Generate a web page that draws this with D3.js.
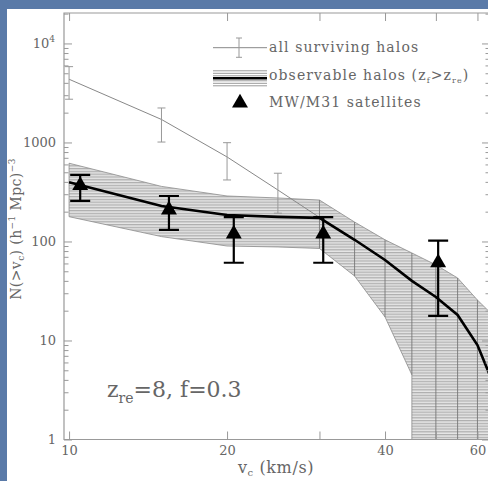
<!DOCTYPE html>
<html>
<head>
<meta charset="utf-8">
<script src="https://cdn.jsdelivr.net/npm/d3@7"></script>
<style>
  body { margin: 0; background: #5a7aa8; }
  svg { display: block; }
  text { font-family: "DejaVu Serif", serif; fill: #666; }
</style>
</head>
<body>
<script>
// grille en v_c des courbes simulees
const vGrid = [10, 15, 20, 25, 30, 35, 40, 45, 50, 55, 60, 65];
const observable = [396, 228, 185, 177, 173, 104, 65, 40, 27.5, 18.1, 9.0, 3.2];
const bandHigh = [617, 360, 288, 275, 262, 157, 104, 76.5, 58, 42.8, 25.6, 16.9];
const bandLow = [178, 112, 90, 88, 85, 44.8, 17.3, 4.5, 0, 0, 0, 0];

// tous les halos survivants
const allV = [10, 15, 20, 25, 30];
const allHalos = [4350, 1707, 714, 331, 175];
const allErrLow = [2733, 1010, 418, 193, null];
const allErrHigh = [5830, 2230, 995, 489, null];

// satellites MW/M31
const satV = [10.5, 15.5, 20.6, 30.5, 50.5];
const satN = [368, 209, 119, 119, 61];
const satLow = [257, 131, 61, 61, 17.7];
const satHigh = [470, 288, 176, 176, 102];

const xTicks = [10, 20, 30, 40, 50, 60];
const xLabels = [10, 20, 40, 60];
const yMajor = [1, 10, 100, 1000, 10000];

const width = 488, height = 481;
const pLeft = 64, pRight = 490, pTop = 13, pBottom = 439.5;

const svg = d3.select("body").append("svg")
    .attr("width", width)
    .attr("height", height);

// fond blanc du "slide"
svg.append("rect").attr("x", 7).attr("y", 9).attr("width", 490).attr("height", 480).attr("fill", "#fff");

const x = d3.scaleLog().domain([9.78, 63.4]).range([pLeft, pRight]);
const y = d3.scaleLog().domain([1, 20300]).range([pBottom, pTop]);

const defs = svg.append("defs");
defs.append("clipPath").attr("id", "plot")
    .append("rect").attr("x", pLeft).attr("y", pTop).attr("width", pRight - pLeft).attr("height", pBottom - pTop);

const pat = defs.append("pattern").attr("id", "hatch")
    .attr("patternUnits", "userSpaceOnUse").attr("width", 8).attr("height", 2.8);
pat.append("rect").attr("width", 8).attr("height", 2.8).attr("fill", "#e6e6e6");
pat.append("line").attr("x1", 0).attr("x2", 8).attr("y1", 0.7).attr("y2", 0.7)
    .attr("stroke", "#a0a0a0").attr("stroke-width", 1);

const g = svg.append("g").attr("clip-path", "url(#plot)");

// bande (polygone haut puis bas)
const pts = vGrid.map((v, i) => [x(v), y(bandHigh[i])]);
const lowPts = [];
vGrid.forEach((v, i) => {
    if (bandLow[i] > 0) lowPts.push([x(v), y(bandLow[i])]);
    else {
        if (i > 0 && bandLow[i - 1] > 0) lowPts.push([x(vGrid[i - 1]), pBottom + 2]);
        lowPts.push([x(v), pBottom + 2]);
    }
});
const poly = pts.concat(lowPts.reverse());
g.append("path")
    .attr("d", d3.line()(poly) + "Z")
    .attr("fill", "url(#hatch)")
    .attr("stroke", "#8a8a8a")
    .attr("stroke-width", 0.8);

// traits verticaux dans la bande
g.selectAll(".vband")
    .data(vGrid.filter(v => v >= 30))
    .join("line")
    .attr("x1", v => x(v)).attr("x2", v => x(v))
    .attr("y1", v => y(bandHigh[vGrid.indexOf(v)]))
    .attr("y2", v => { const lo = bandLow[vGrid.indexOf(v)]; return lo > 0 ? y(lo) : pBottom; })
    .attr("stroke", "#777").attr("stroke-width", 0.9);

// tous les halos
g.append("path")
    .attr("d", d3.line().x((v) => x(v)).y((v, i) => y(allHalos[i]))(allV))
    .attr("fill", "none").attr("stroke", "#888").attr("stroke-width", 1);

allV.forEach((v, i) => {
    if (allErrLow[i] == null) return;
    const e = g.append("g").attr("stroke", "#999").attr("stroke-width", 1);
    e.append("line").attr("x1", x(v)).attr("x2", x(v)).attr("y1", y(allErrLow[i])).attr("y2", y(allErrHigh[i]));
    [allErrLow[i], allErrHigh[i]].forEach(val => {
        e.append("line").attr("x1", x(v) - 4).attr("x2", x(v) + 4).attr("y1", y(val)).attr("y2", y(val));
    });
});

// halos observables
g.append("path")
    .attr("d", d3.line().x((v) => x(v)).y((v, i) => y(observable[i]))(vGrid))
    .attr("fill", "none").attr("stroke", "#000").attr("stroke-width", 2.6);

// satellites
satV.forEach((v, i) => {
    const e = g.append("g").attr("stroke", "#000").attr("stroke-width", 2.2);
    e.append("line").attr("x1", x(v)).attr("x2", x(v)).attr("y1", y(satLow[i])).attr("y2", y(satHigh[i]));
    [satLow[i], satHigh[i]].forEach(val => {
        e.append("line").attr("x1", x(v) - 10).attr("x2", x(v) + 10).attr("y1", y(val)).attr("y2", y(val));
    });
});
g.selectAll(".sat")
    .data(satV)
    .join("path")
    .attr("d", d3.symbol().type(d3.symbolTriangle).size(110))
    .attr("transform", (v, i) => `translate(${x(v)},${y(satN[i])})`)
    .attr("fill", "#000");

// axes
const axisColor = "#999";
function styleAxis(sel) {
    sel.select(".domain").remove();
    sel.selectAll("line").attr("stroke", axisColor);
}
svg.append("path")
    .attr("d", `M${pRight},${pTop}H${pLeft}V${pBottom}H${pRight}`)
    .attr("fill", "none").attr("stroke", axisColor).attr("stroke-width", 1.2);
svg.append("line").attr("x1", pRight).attr("x2", pRight).attr("y1", pTop).attr("y2", pBottom)
    .attr("stroke", axisColor).attr("stroke-width", 1.2);

const yMinor = [];
yMajor.forEach(d => { for (let k = 2; k <= 9; k++) if (d * k < 20300) yMinor.push(d * k); });

const axL = svg.append("g").attr("transform", `translate(${pLeft},0)`)
    .call(d3.axisLeft(y).tickValues(yMajor).tickSize(-8).tickPadding(8).tickFormat(d => d === 10000 ? "" : d));
styleAxis(axL);
axL.selectAll("text").attr("font-size", 13).attr("fill", "#666").attr("font-family", "DejaVu Serif");
axL.append("text").attr("x", -9).attr("y", y(10000) + 4.5).attr("text-anchor", "end")
    .attr("font-size", 13).attr("fill", "#666")
    .text("10").append("tspan").attr("font-size", 9).attr("dy", -6).text("4");
const axLm = svg.append("g").attr("transform", `translate(${pLeft},0)`)
    .call(d3.axisLeft(y).tickValues(yMinor).tickSize(-4.5).tickFormat(""));
styleAxis(axLm);

const axR = svg.append("g").attr("transform", `translate(${pRight},0)`)
    .call(d3.axisRight(y).tickValues(yMajor).tickSize(-8).tickFormat(""));
styleAxis(axR);
const axRm = svg.append("g").attr("transform", `translate(${pRight},0)`)
    .call(d3.axisRight(y).tickValues(yMinor).tickSize(-4.5).tickFormat(""));
styleAxis(axRm);

const axB = svg.append("g").attr("transform", `translate(0,${pBottom})`)
    .call(d3.axisBottom(x).tickValues(xTicks).tickSize(-8).tickPadding(6)
        .tickFormat(d => xLabels.includes(d) ? d : ""));
styleAxis(axB);
axB.selectAll("text").attr("font-size", 13).attr("fill", "#666").attr("font-family", "DejaVu Serif");
const axT = svg.append("g").attr("transform", `translate(0,${pTop})`)
    .call(d3.axisTop(x).tickValues(xTicks).tickSize(-8).tickFormat(""));
styleAxis(axT);

// titres des axes
const xt = svg.append("text").attr("x", 276).attr("y", 473).attr("text-anchor", "middle")
    .attr("font-size", 16).attr("letter-spacing", 0.6);
xt.append("tspan").text("v");
xt.append("tspan").attr("font-size", 10).attr("dy", 3).text("c");
xt.append("tspan").attr("dy", -3).text(" (km/s)");

const yt = svg.append("text").attr("transform", "translate(21,229) rotate(-90)")
    .attr("text-anchor", "middle").attr("font-size", 14).attr("letter-spacing", 0.4);
yt.append("tspan").text("N(>v");
yt.append("tspan").attr("font-size", 9).attr("dy", 3).text("c");
yt.append("tspan").attr("dy", -3).text(") (h");
yt.append("tspan").attr("font-size", 9).attr("dy", -6).text("−1");
yt.append("tspan").attr("dy", 6).text(" Mpc)");
yt.append("tspan").attr("font-size", 9).attr("dy", -6).text("−3");

// legende
const lg = svg.append("g");
lg.append("line").attr("x1", 213).attr("x2", 267).attr("y1", 47.7).attr("y2", 47.7).attr("stroke", "#888");
lg.append("line").attr("x1", 239).attr("x2", 239).attr("y1", 38).attr("y2", 57.3).attr("stroke", "#999");
[38, 57.3].forEach(yy => lg.append("line").attr("x1", 236).attr("x2", 242).attr("y1", yy).attr("y2", yy).attr("stroke", "#999"));
[-7.5, -5, -2.5, 2.5, 5, 7.5].forEach(o => lg.append("line")
    .attr("x1", 213).attr("x2", 267).attr("y1", 78.3 + o).attr("y2", 78.3 + o).attr("stroke", "#999"));
lg.append("line").attr("x1", 213).attr("x2", 267).attr("y1", 78.3).attr("y2", 78.3).attr("stroke", "#000").attr("stroke-width", 2.6);
lg.append("path").attr("d", d3.symbol().type(d3.symbolTriangle).size(110))
    .attr("transform", "translate(240,103)").attr("fill", "#000");

lg.append("text").attr("x", 269).attr("y", 52).attr("font-size", 14).attr("letter-spacing", 1.1).text("all surviving halos");
const lt2 = lg.append("text").attr("x", 269).attr("y", 80).attr("font-size", 14).attr("letter-spacing", 1.1);
lt2.append("tspan").text("observable halos (z");
lt2.append("tspan").attr("font-size", 8).attr("dy", 3).text("f");
lt2.append("tspan").attr("dy", -3).text(">z");
lt2.append("tspan").attr("font-size", 8).attr("dy", 3).text("re");
lt2.append("tspan").attr("dy", -3).text(")");
lg.append("text").attr("x", 269).attr("y", 107).attr("font-size", 14).attr("letter-spacing", 1.1).text("MW/M31 satellites");

// parametres du modele
const pm = svg.append("text").attr("x", 107).attr("y", 397).attr("font-size", 22)
    .attr("font-family", "DejaVu Sans").attr("fill", "#777");
pm.append("tspan").text("z");
pm.append("tspan").attr("font-size", 14).attr("dy", 6).text("re");
pm.append("tspan").attr("dy", -6).text("=8,  f=0.3");
</script>
</body>
</html>
